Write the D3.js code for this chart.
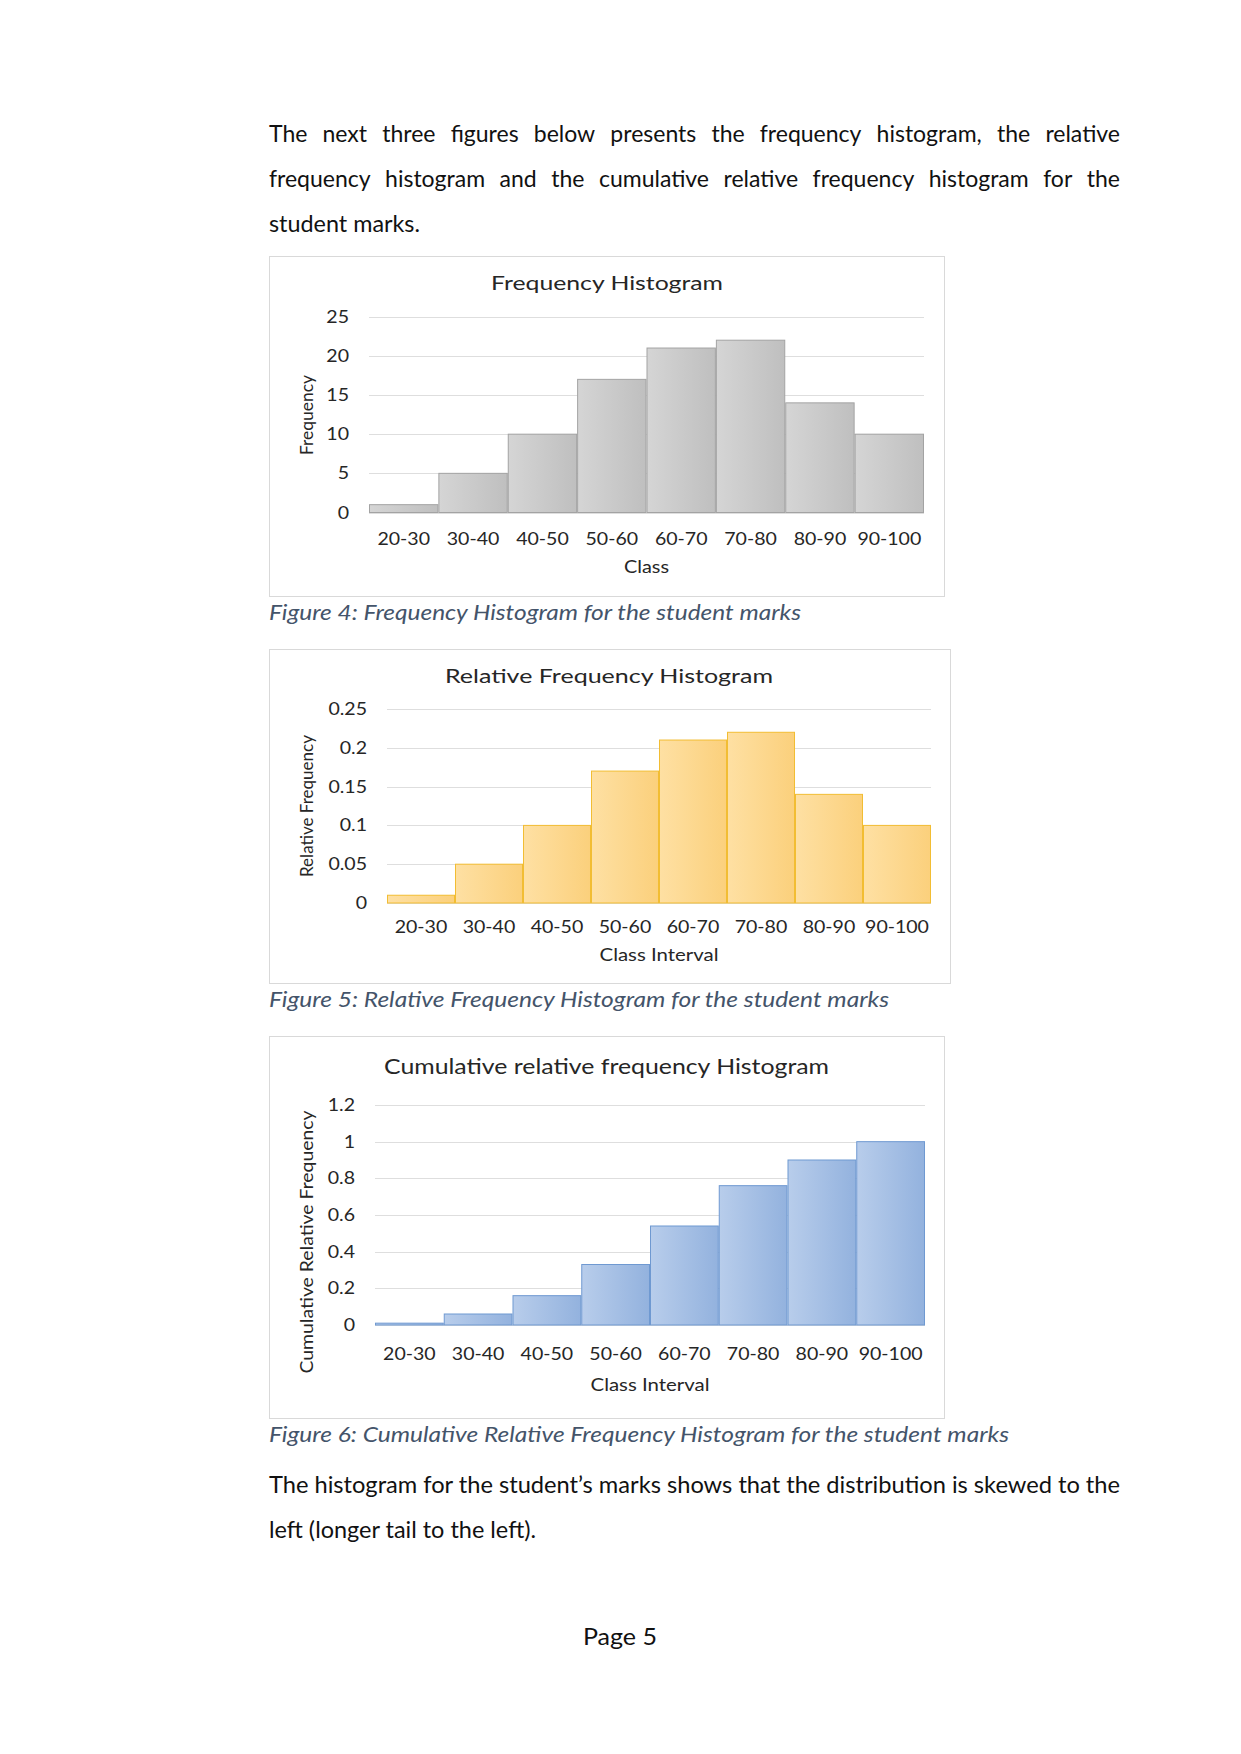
<!DOCTYPE html>
<html><head><meta charset="utf-8">
<script src="https://cdn.jsdelivr.net/npm/d3@7"></script>
<style>body{margin:0;background:#fff}svg{display:block}</style>
</head><body>
<svg id="page" width="1241" height="1754"></svg>
<script>
// ---------- data ----------
const classes = ["20-30","30-40","40-50","50-60","60-70","70-80","80-90","90-100"];
const frequency = [1,5,10,17,21,22,14,10];
const relativeFrequency = [0.01,0.05,0.10,0.17,0.21,0.22,0.14,0.10];
const cumulativeRelativeFrequency = [0.01,0.06,0.16,0.33,0.54,0.76,0.90,1.00];
const frequencyTicks = [0,5,10,15,20,25];
const relativeTicks = [0,0.05,0.1,0.15,0.2,0.25];
const cumulativeTicks = [0,0.2,0.4,0.6,0.8,1,1.2];
const chartTitles = ["Frequency Histogram","Relative Frequency Histogram","Cumulative relative frequency Histogram"];
const xTitles = ["Class","Class Interval","Class Interval"];
const yTitles = ["Frequency","Relative Frequency","Cumulative Relative Frequency"];
const captions = ["Figure 4: Frequency Histogram for the student marks",
  "Figure 5: Relative Frequency Histogram for the student marks",
  "Figure 6: Cumulative Relative Frequency Histogram for the student marks"];
const introLines = ["The next three figures below presents the frequency histogram, the relative",
  "frequency histogram and the cumulative relative frequency histogram for the",
  "student marks."];
const closingLines = ["The histogram for the student\u2019s marks shows that the distribution is skewed to the",
  "left (longer tail to the left)."];
const pageLabel = "Page 5";

// ---------- layout ----------
const svg = d3.select("#page");
svg.append("rect").attr("width",1241).attr("height",1754).attr("fill","#fff");
const defs = svg.append("defs");
const palettes = [
  {id:"gGrey", a:"#d5d5d5", b:"#bfbfbf", stroke:"#a3a3a3"},
  {id:"gGold", a:"#fee0a3", b:"#fbd07c", stroke:"#f2bd33"},
  {id:"gBlue", a:"#b8cdeb", b:"#93b2de", stroke:"#6f99d1"}
];
palettes.forEach(p=>{
  const lg = defs.append("linearGradient").attr("id",p.id).attr("x1",0).attr("x2",1).attr("y1",0).attr("y2",0);
  lg.append("stop").attr("offset",0).attr("stop-color",p.a);
  lg.append("stop").attr("offset",1).attr("stop-color",p.b);
});

const FONT = "Lato, 'Open Sans', sans-serif";
const SX = 1.15; // horizontal stretch of the embedded chart pictures
const TXT = "#262626";

function stretchedText(g, x, y, str, size, anchor, rotate){
  return g.append("text")
    .attr("transform", `translate(${x},${y}) scale(${SX},1)` + (rotate ? ` rotate(${rotate})` : ""))
    .attr("font-family", FONT).attr("font-size", size).attr("fill", TXT)
    .attr("text-anchor", anchor).text(str);
}

const charts = [
  {values: frequency, ticks: frequencyTicks, title: chartTitles[0], xt: xTitles[0], yt: yTitles[0], pal: palettes[0],
   box:[269,256,944,596], px0:369, px1:924, top:316.7, bottom:512.5, tickRight:349,
   titleX:607, titleBase:290, titleW:232, titleSize:18.5,
   xLabelBase:545, xTitleBase:573, xTitleW:45, yTitleX:313, yTitleY:415, yTitleW:80},
  {values: relativeFrequency, ticks: relativeTicks, title: chartTitles[1], xt: xTitles[1], yt: yTitles[1], pal: palettes[1],
   box:[269,649,950,983], px0:387, px1:931, top:709, bottom:903, tickRight:367,
   titleX:609, titleBase:683, titleW:328, titleSize:18.5,
   xLabelBase:933, xTitleBase:961, xTitleW:119, yTitleX:313, yTitleY:806, yTitleW:142},
  {values: cumulativeRelativeFrequency, ticks: cumulativeTicks, title: chartTitles[2], xt: xTitles[2], yt: yTitles[2], pal: palettes[2],
   box:[269,1036,944,1418], px0:375, px1:925, top:1105, bottom:1325, tickRight:355,
   titleX:606.5, titleBase:1074, titleW:445, titleSize:21,
   xLabelBase:1360, xTitleBase:1391, xTitleW:119, yTitleX:313, yTitleY:1242, yTitleW:263}
];

charts.forEach(c=>{
  const g = svg.append("g");
  g.append("rect").attr("x",c.box[0]+0.5).attr("y",c.box[1]+0.5)
    .attr("width",c.box[2]-c.box[0]).attr("height",c.box[3]-c.box[1])
    .attr("fill","#fff").attr("stroke","#d9d9d9").attr("stroke-width",1);

  const x = d3.scaleBand().domain(classes).range([c.px0,c.px1]).padding(0);
  const y = d3.scaleLinear().domain([0, d3.max(c.ticks)]).range([c.bottom,c.top]);

  // gridlines
  g.append("g").selectAll("line").data(c.ticks).join("line")
    .attr("x1",c.px0).attr("x2",c.px1)
    .attr("y1",d=>Math.round(y(d))+0.5).attr("y2",d=>Math.round(y(d))+0.5)
    .attr("stroke","#dedede").attr("stroke-width",1);

  // bars
  g.append("g").selectAll("rect").data(c.values).join("rect")
    .attr("x",(d,i)=>x(classes[i])+0.5)
    .attr("y",d=>y(d))
    .attr("width",x.bandwidth()-1)
    .attr("height",d=>y(0)-y(d))
    .attr("fill",`url(#${c.pal.id})`)
    .attr("stroke",c.pal.stroke).attr("stroke-width",1);

  // y tick labels
  c.ticks.forEach(t=>{
    stretchedText(g, c.tickRight, y(t)+6, String(t), 17, "end");
  });
  // x labels
  classes.forEach(k=>{
    stretchedText(g, x(k)+x.bandwidth()/2, c.xLabelBase, k, 17, "middle");
  });
  // titles
  g.append("text").attr("x",c.titleX).attr("y",c.titleBase)
    .attr("font-family",FONT).attr("font-size",c.titleSize).attr("fill",TXT)
    .attr("text-anchor","middle").attr("textLength",c.titleW).attr("lengthAdjust","spacingAndGlyphs")
    .text(c.title);
  g.append("text").attr("x",(c.px0+c.px1)/2).attr("y",c.xTitleBase)
    .attr("font-family",FONT).attr("font-size",16.5).attr("fill",TXT)
    .attr("text-anchor","middle").attr("textLength",c.xTitleW).attr("lengthAdjust","spacingAndGlyphs")
    .text(c.xt);
  g.append("text").attr("transform",`translate(${c.yTitleX},${c.yTitleY}) scale(${SX},1) rotate(-90)`)
    .attr("font-family",FONT).attr("font-size",15.5).attr("fill",TXT)
    .attr("text-anchor","middle").attr("textLength",c.yTitleW).attr("lengthAdjust","spacingAndGlyphs")
    .text(c.yt);
});

// ---------- captions ----------
const capBase = [620, 1007, 1442];
const capW = [532, 620, 740];
captions.forEach((t,i)=>{
  svg.append("text").attr("x",269).attr("y",capBase[i])
    .attr("font-family",FONT).attr("font-style","italic").attr("font-size",22)
    .attr("fill","#44546a").attr("textLength",capW[i]).attr("lengthAdjust","spacingAndGlyphs")
    .text(t);
});

// ---------- body text ----------
const BODY = 23;
function justified(line, y, x0, width){
  const words = line.split(" ");
  const widths = words.map(w=>{
    const t = svg.append("text").attr("font-family",FONT).attr("font-size",BODY).text(w);
    const wd = t.node().getComputedTextLength(); t.remove(); return wd;
  });
  const total = d3.sum(widths);
  const gap = (width - total)/(words.length-1);
  let xx = x0;
  words.forEach((w,i)=>{
    svg.append("text").attr("x",xx).attr("y",y).attr("font-family",FONT)
      .attr("font-size",BODY).attr("fill","#111").text(w);
    xx += widths[i] + gap;
  });
}
function natural(line, y, x0, width){
  svg.append("text").attr("x",x0).attr("y",y).attr("font-family",FONT)
    .attr("font-size",BODY).attr("fill","#111")
    .attr("textLength",width).attr("lengthAdjust","spacingAndGlyphs").text(line);
}
justified(introLines[0], 142, 269, 851);
justified(introLines[1], 187, 269, 851);
natural(introLines[2], 232, 269, 151);
natural(closingLines[0], 1493, 269, 851);
natural(closingLines[1], 1538, 269, 267);

svg.append("text").attr("x",620).attr("y",1645).attr("text-anchor","middle")
  .attr("font-family",FONT).attr("font-size",BODY).attr("fill","#111")
  .attr("textLength",74).attr("lengthAdjust","spacingAndGlyphs").text(pageLabel);
</script>
</body></html>
